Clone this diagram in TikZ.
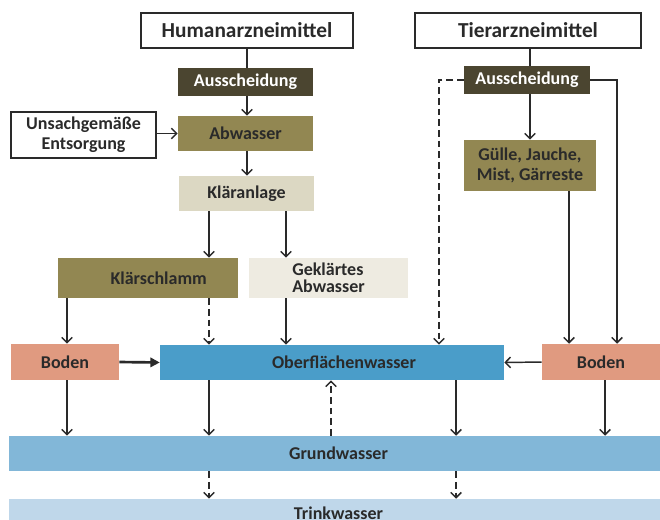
\documentclass[tikz,border=0pt]{standalone}
\usepackage{fontspec}
\setmainfont{Carlito}
\usetikzlibrary{positioning,arrows.meta,calc}
\definecolor{dunkel}{HTML}{4B4530}
\definecolor{oliv}{HTML}{928752}
\definecolor{beige}{HTML}{DCD8C3}
\definecolor{hellbeige}{HTML}{EEEBE1}
\definecolor{erde}{HTML}{E09A80}
\definecolor{wasser}{HTML}{4A9DC9}
\definecolor{grund}{HTML}{82B7D8}
\definecolor{trink}{HTML}{BFD7EA}
\definecolor{schrift}{HTML}{2A2A2A}

\begin{document}
\begin{tikzpicture}[x=0.75pt, y=-0.75pt,
  box/.style={inner sep=0pt, align=center, text=schrift,
    font=\fontsize{13.5}{15}\selectfont\bfseries},
  titel/.style={box, draw=schrift, line width=0.8pt, fill=white,
    font=\fontsize{16}{18}\selectfont\bfseries},
  arrow/.style={-{Straight Barb[length=4pt,width=8pt]}, line width=1.1pt, schrift},
  link/.style={line width=1.1pt, schrift},
  strich/.style={dash pattern=on 5pt off 3pt}
]
\useasboundingbox (0,0) rectangle (660,519);
\clip (0,0) rectangle (660,519);

% Quellen
\node[titel, minimum width=212*0.75pt, minimum height=35*0.75pt]
  (human) at (247,30.5) {Humanarzneimittel};
\node[titel, minimum width=226*0.75pt, minimum height=35*0.75pt]
  (tier) at (528,30.5) {Tierarzneimittel};

% Humanpfad
\node[box, fill=dunkel, text=white, minimum width=135*0.75pt, minimum height=28*0.75pt]
  (ausH) at (245.5,82) {Ausscheidung};
\node[box, fill=oliv, minimum width=135*0.75pt, minimum height=35*0.75pt]
  (abw) at (245.5,133.5) {Abwasser};
\node[box, draw=schrift, line width=0.8pt, fill=white, minimum width=145*0.75pt,
  minimum height=46*0.75pt] (unsach) at (83.5,135) {Unsachgemäße\\Entsorgung};
\node[box, fill=beige, minimum width=135*0.75pt, minimum height=35*0.75pt]
  (klaer) at (246.5,193.5) {Kläranlage};
\node[box, fill=oliv, minimum width=180*0.75pt, minimum height=40*0.75pt]
  (schlamm) at (148,278) {\hspace*{16pt}Klärschlamm};
\node[box, fill=hellbeige, minimum width=159*0.75pt, minimum height=40*0.75pt,
  align=left, font=\fontsize{13.5}{12.5}\selectfont\bfseries]
  (geklaert) at (328.5,278) {Geklärtes\\Abwasser};

% Tierpfad
\node[box, fill=dunkel, text=white, minimum width=126*0.75pt, minimum height=28*0.75pt]
  (ausT) at (527,80) {Ausscheidung};
\node[box, fill=oliv, minimum width=132*0.75pt, minimum height=51*0.75pt]
  (guelle) at (530,165.5) {Gülle, Jauche,\\Mist, Gärreste};

% Umwelt
\node[box, fill=erde, minimum width=108*0.75pt, minimum height=36*0.75pt]
  (bodenL) at (65,362) {Boden};
\node[box, fill=wasser, minimum width=344*0.75pt, minimum height=35*0.75pt]
  (ober) at (332,362.5) {\hspace*{18pt}Oberflächenwasser};
\node[box, fill=erde, minimum width=118*0.75pt, minimum height=36*0.75pt]
  (bodenR) at (601,362) {Boden};
\node[box, fill=grund, minimum width=651*0.75pt, minimum height=35*0.75pt]
  (grundw) at (334.5,453.5) {\hspace*{6pt}Grundwasser};
\node[box, fill=trink, minimum width=651*0.75pt, minimum height=31*0.75pt]
  (trinkw) at (334.5,514.5) {\hspace*{6pt}\raisebox{2pt}{Trinkwasser}};

% Spalten
\coordinate (xa) at (67,0);
\coordinate (xb) at (209,0);
\coordinate (xc) at (286,0);
\coordinate (xd) at (331,0);
\coordinate (xe) at (439,0);
\coordinate (xf) at (456,0);
\coordinate (xg) at (569,0);
\coordinate (xh) at (605,0);
\coordinate (xi) at (617,0);
\coordinate (t1) at ([xshift=1.5pt]tier.south);

% Pfeile Mensch
\draw[link] (human.south) -- (human.south |- ausH.north);
\draw[arrow] (human.south |- ausH.south) -- (human.south |- abw.north);
\draw[arrow] (human.south |- abw.south) -- (human.south |- klaer.north);
\draw[arrow] (unsach.east |- abw) -- (abw.west);
\draw[arrow] (xb |- klaer.south) -- (xb |- schlamm.north);
\draw[arrow] (xc |- klaer.south) -- (xc |- geklaert.north);
\draw[arrow] (xa |- schlamm.south) -- (xa |- bodenL.north);
\draw[arrow, strich] (xb |- schlamm.south) -- (xb |- ober.north);
\draw[arrow] (xc |- geklaert.south) -- (xc |- ober.north);

% Pfeile Tier
\draw[link] (t1) -- (t1 |- ausT.north);
\draw[arrow] (t1 |- ausT.south) -- (t1 |- guelle.north);
\draw[arrow, strich] (ausT.west) -| (xe |- ober.north);
\draw[arrow] (ausT.east) -| (xi |- bodenR.north);
\draw[arrow] (xg |- guelle.south) -- (xg |- bodenR.north);

% Boden und Wasser
\draw[-{Triangle[length=7pt,width=7pt]}, line width=2pt, schrift]
  (bodenL.east) -- (ober.west);
\draw[arrow] (bodenR.west) -- (ober.east);
\draw[arrow] (xa |- bodenL.south) -- (xa |- grundw.north);
\draw[arrow] (xb |- ober.south) -- (xb |- grundw.north);
\draw[arrow] (xf |- ober.south) -- (xf |- grundw.north);
\draw[arrow] (xh |- bodenR.south) -- (xh |- grundw.north);
\draw[arrow, strich] (xd |- grundw.north) -- (xd |- ober.south);
\draw[arrow, strich] (xb |- grundw.south) -- (xb |- trinkw.north);
\draw[arrow, strich] (xf |- grundw.south) -- (xf |- trinkw.north);
\end{tikzpicture}
\end{document}
